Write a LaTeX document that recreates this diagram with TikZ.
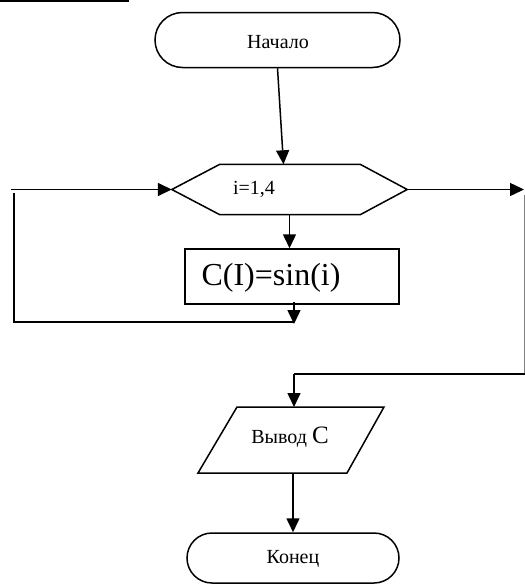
\documentclass[tikz,border=0pt]{standalone}
\usepackage{fontspec}
\setmainfont{Liberation Serif}
\usetikzlibrary{arrows.meta,calc,shapes.misc}
\begin{document}
\begin{tikzpicture}[x=1pt,y=1pt,
  ln/.style={line width=1.5pt},
  arr/.style={ln,-{Triangle[length=14pt,width=13pt]}},
  term/.style={draw,ln,rounded rectangle,rounded rectangle arc length=180,inner sep=0pt},
  plain/.style={draw=none,inner sep=0pt},
  txt/.style={inner sep=0pt,font=\fontsize{20}{24}\selectfont}]
\useasboundingbox (0,0) rectangle (525,-584);
\fill[white] (0,0) rectangle (525,-584);
% top-left rule
\coordinate (t1) at (0,-0.8);
\coordinate (t2) at (129,-0.8);
\draw[line width=1.6pt] (t1) -- (t2);
% start
\node[term,minimum width=245pt,minimum height=55pt] (start) at (277.5,-40) {};
\node[txt] (starttxt) at (278,-42) {Начало};
% hexagon
\node[plain,minimum width=235pt,minimum height=50pt] (hex) at (289.5,-189.5) {};
\draw[ln] (hex.west) -- ([xshift=48pt]hex.north west) -- ([xshift=-47pt]hex.north east)
  -- (hex.east) -- ([xshift=-47pt]hex.south east) -- ([xshift=48pt]hex.south west) -- cycle;
\node[txt] (hextxt) at (254,-189) {i=1,4};
% process box
\node[draw,ln,rectangle,minimum width=214pt,minimum height=55pt,inner sep=0pt] (box) at (292,-276.5) {};
\node[inner sep=0pt,font=\fontsize{32}{36}\selectfont] (boxtxt) at (271,-278) {C(I)=sin(i)};
% output parallelogram
\coordinate (p1) at (237,-407);
\coordinate (p2) at (384,-407);
\coordinate (p3) at (347,-473);
\coordinate (p4) at (198,-473);
\draw[ln] (p1) -- (p2) -- (p3) -- (p4) -- cycle;
\node[inner sep=0pt] (out) at (290,-437) {\fontsize{20}{24}\selectfont Вывод \fontsize{25}{28}\selectfont C};
% end
\node[term,minimum width=212pt,minimum height=50pt] (end) at (293,-558) {};
\node[txt] (endtxt) at (293,-559) {Конец};
% connectors
\draw[arr] (start.south) -- ([xshift=-6pt]hex.north);
\coordinate (lin) at (11,-189.5);
\draw[arr] (lin) -- (hex.west);
\draw[arr] (hex.south) -- (hex.south |- box.north);
\coordinate (l1) at (14,-193);
\coordinate (l2) at (14,-322);
\coordinate (l3) at (294,-322);
\draw[ln] (l1) -- (l2) -- (l3);
\coordinate (b1) at (294,-302);
\coordinate (b2) at (294,-324);
\draw[arr] (b1) -- (b2);
\coordinate (r1) at (524,-189.5);
\draw[arr] (hex.east) -- (r1);
\coordinate (r2) at (524,-195);
\coordinate (r3) at (524,-373);
\draw[gray,line width=0.7pt] (r2) -- (r3);
\coordinate (r4) at (524.5,-374);
\coordinate (r5) at (294,-374);
\coordinate (r6) at (294,-407);
\draw[ln] (r4) -- (r5);
\draw[arr] (r5) -- (r6);
\coordinate (o1) at (293,-473);
\draw[arr] (o1) -- (end.north);
\end{tikzpicture}
\end{document}
